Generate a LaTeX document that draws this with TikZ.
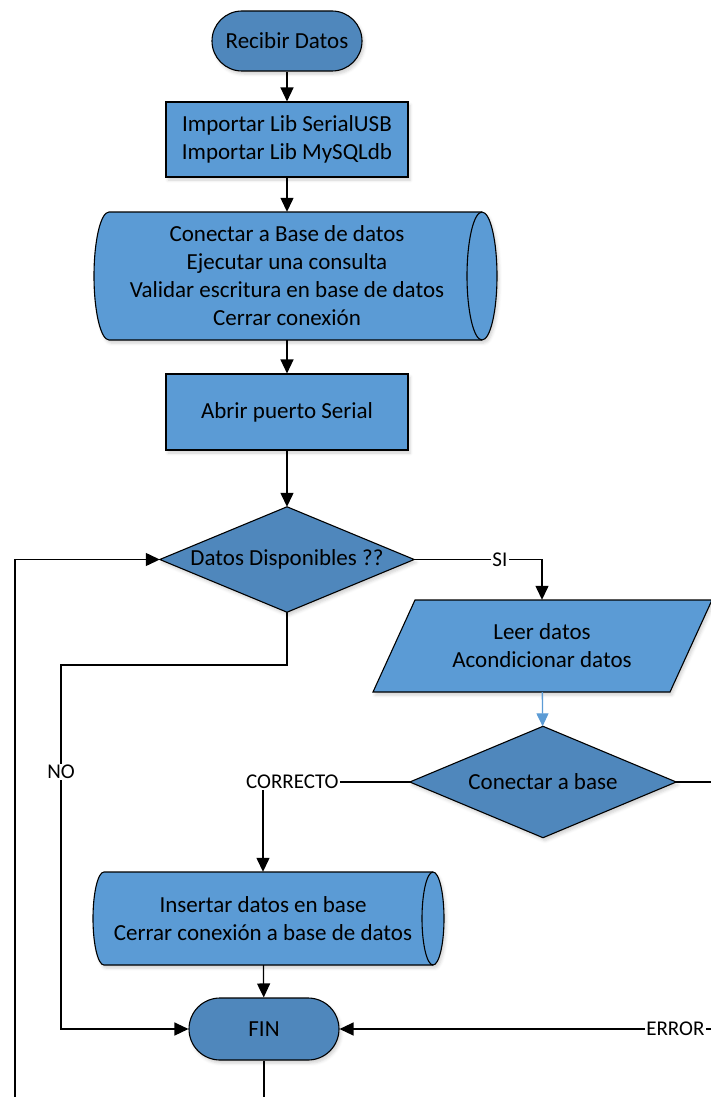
\documentclass[tikz,border=0pt]{standalone}
\usepackage{fontspec}
\setmainfont{Carlito}
\usetikzlibrary{arrows.meta,backgrounds,shadows.blur}

\definecolor{termblue}{RGB}{79,135,188}
\definecolor{procblue}{RGB}{91,155,213}

\begin{document}
\begin{tikzpicture}[x=1pt,y=-1pt,
  txt/.style={font=\fontsize{23}{28}\selectfont, align=center, inner sep=0pt},
  softshadow/.style={blur shadow={shadow xshift=2pt, shadow yshift=-3pt,
      shadow blur radius=3pt, shadow opacity=18}},
  outline/.style={draw=black, line width=1.1pt, softshadow},
  term/.style={txt, outline, fill=termblue, rounded corners=#1},
  proc/.style={txt, outline, fill=procblue},
  shapefill/.style={outline, fill=#1},
  lbl/.style={font=\fontsize{21}{24}\selectfont, fill=white, inner sep=1.5pt},
  arr/.style={line width=1.3pt, -{Triangle[length=14pt,width=13pt]}},
  wire/.style={line width=1.3pt}
]
\useasboundingbox (0,0) rectangle (710,1097);

% ---- nodes ----
\node[term=30pt, minimum width=150pt, minimum height=60pt] (recibir) at (287,41) {Recibir Datos};
\node[proc, minimum width=242pt, minimum height=75pt] (libs) at (287,139.5)
  {Importar Lib SerialUSB\\Importar Lib MySQLdb};
\node[txt, minimum width=388pt, minimum height=128pt] (db) at (287,276)
  {Conectar a Base de datos\\Ejecutar una consulta\\Validar escritura en base de datos\\Cerrar conexión};
\node[proc, minimum width=242pt, minimum height=76pt] (serial) at (287,412) {Abrir puerto Serial};
\node[txt, minimum width=254pt, minimum height=105pt] (disp) at (287,559.5) {Datos Disponibles ??};
\node[txt, minimum width=339pt, minimum height=92pt] (leer) at (542,646)
  {Leer datos\\Acondicionar datos};
\node[txt, minimum width=266pt, minimum height=111pt] (base) at (543,782) {Conectar a base};
\node[txt, minimum width=340pt, minimum height=93pt] (insert) at (263,918.5)
  {Insertar datos en base\\Cerrar conexión a base de datos};
\node[term=31pt, minimum width=150pt, minimum height=62pt] (fin) at (264,1029) {FIN};

% ---- outlines of the non-rectangular symbols ----
\begin{scope}[on background layer]
  % stored-data drum
  \path[shapefill=procblue] (109,212) -- (482,212)
    arc[start angle=90, end angle=-90, x radius=15pt, y radius=64pt]
    -- (109,340)
    arc[start angle=-90, end angle=-270, x radius=15pt, y radius=64pt] -- cycle;
  \draw[line width=1.1pt] (482,212)
    arc[start angle=90, end angle=270, x radius=15pt, y radius=64pt];
  % decisions
  \path[shapefill=termblue] (disp.north) -- (disp.east) -- (disp.south) -- (disp.west) -- cycle;
  \path[shapefill=termblue] (base.north) -- (base.east) -- (base.south) -- (base.west) -- cycle;
  % input parallelogram
  \path[shapefill=procblue] (415,600) -- (712,600) -- (670,692) -- (373,692) -- cycle;
  % insert drum
  \path[shapefill=procblue] (104,872) -- (433,872)
    arc[start angle=90, end angle=-90, x radius=11pt, y radius=46.5pt]
    -- (104,965)
    arc[start angle=-90, end angle=-270, x radius=11pt, y radius=46.5pt] -- cycle;
  \draw[line width=1.1pt] (433,872)
    arc[start angle=90, end angle=270, x radius=11pt, y radius=46.5pt];
\end{scope}

% ---- turning points of the long connectors ----
\coordinate (noTop) at (61,665);
\coordinate (noBot) at (61,1029);
\coordinate (errTop) at (730,782);
\coordinate (errBot) at (730,1029);
\coordinate (loopA) at (264,1115);
\coordinate (loopB) at (15,1115);

% ---- connectors ----
\draw[arr] (recibir) -- (libs);
\draw[arr] (libs) -- (db);
\draw[arr] (db) -- (serial);
\draw[arr] (serial) -- (disp);
\draw[arr] (disp.east) -| node[lbl, pos=0.335] {SI} (leer.north);
\draw[arr, draw=procblue, -{Triangle[length=13pt,width=12pt,fill=procblue]}] (leer) -- (base);
\draw[arr] (base.west) -| node[lbl, pos=0.40] {CORRECTO} (insert.north);
\draw[arr] (insert) -- (fin);
\draw[arr] (disp.south) |- (noTop) -- node[lbl, pos=0.294] {NO} (noBot) -- (fin.west);
\draw[arr] (base.east) -- (errTop) -- (errBot) -- node[lbl, pos=0.14] {ERROR} (fin.east);
\draw[arr] (fin.south) -- (loopA) -- (loopB) |- (disp.west);
\end{tikzpicture}
\end{document}
